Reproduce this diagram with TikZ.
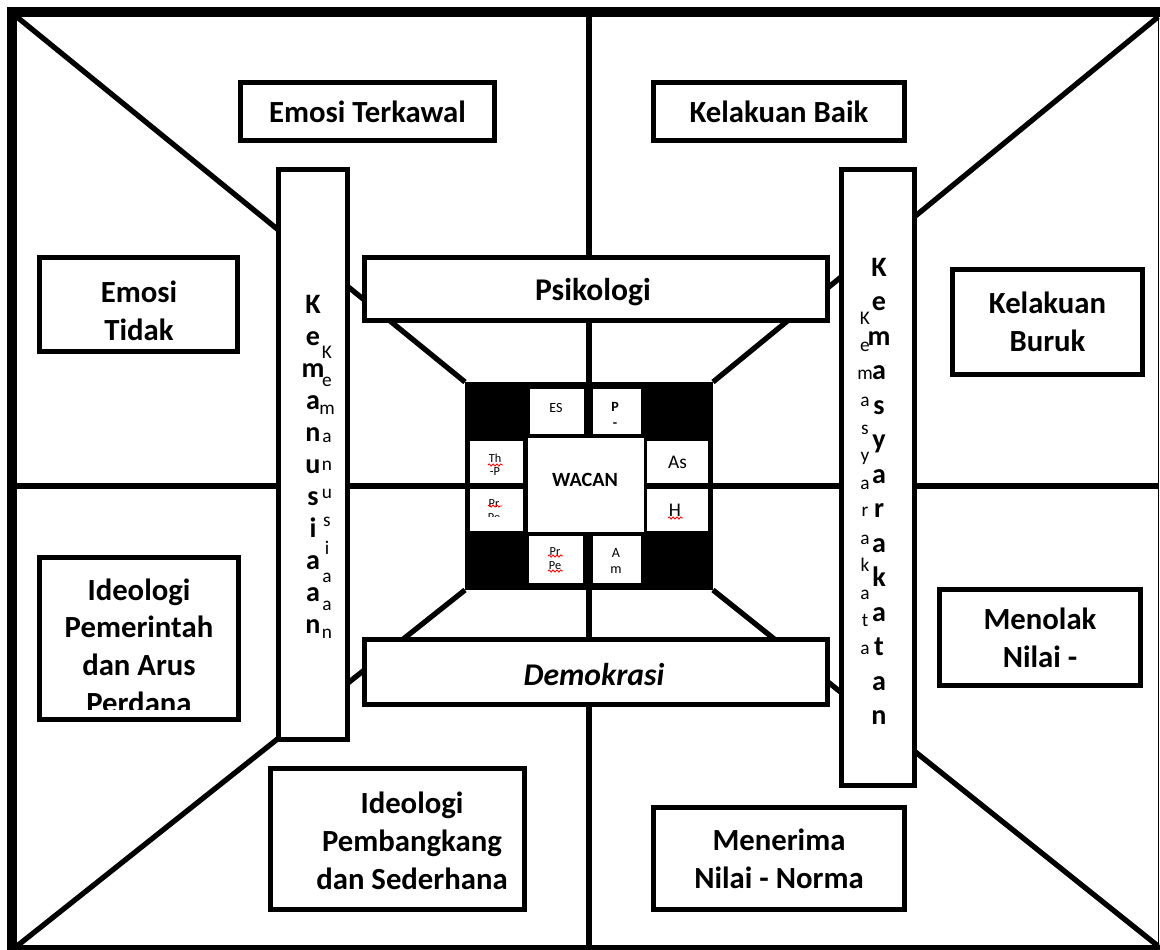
\documentclass[tikz,border=0pt]{standalone}
\usepackage{fontspec}
\setmainfont{Carlito}
\usetikzlibrary{positioning,decorations.pathmorphing}

\begin{document}
\begin{tikzpicture}[x=0.02cm,y=-0.02cm]

\tikzstyle{box}=[draw,fill=white,line width=2.8pt,outer sep=0pt,inner sep=0pt,align=center,font=\bfseries\fontsize{17.5}{21.5}\selectfont]
\tikzstyle{boxtext}=[align=center,inner sep=0pt,font=\bfseries\fontsize{17.5}{21.5}\selectfont]
\tikzstyle{cell}=[fill=white,outer sep=0pt,inner sep=0pt]
\tikzstyle{celltext}=[inner sep=0pt,font=\fontsize{8}{8}\selectfont]
\tikzstyle{letterbig}=[anchor=base,inner sep=0pt,font=\bfseries\fontsize{16}{16}\selectfont]
\tikzstyle{lettersmall}=[anchor=base,inner sep=0pt,font=\fontsize{11}{11}\selectfont]
\tikzstyle{divider}=[line width=3pt]
\tikzstyle{wavy}=[red,line width=0.5pt,decorate,decoration={snake,amplitude=0.6pt,segment length=2.2pt}]

\useasboundingbox (0,0) rectangle (1160,950);

% Rama

\coordinate (tl) at (17,17);
\coordinate (tr) at (1158,17);
\coordinate (bl) at (17,946);
\coordinate (br) at (1158,946);

\draw [line width=5.7pt] (7,12) -- (1160,12);
\draw [line width=5.7pt] (12,7) -- (12,950);
\draw [line width=2.8pt] (7,947.5) -- (1160,947.5);
\draw [line width=1pt] (1158.5,7) -- (1158.5,950);

% Garis pusat

\coordinate (ct) at (589,17);
\coordinate (cb) at (589,946);
\coordinate (cl) at (17,486);
\coordinate (cr) at (1158,486);

\coordinate (snw) at (465,382);
\coordinate (sne) at (713,382);
\coordinate (ssw) at (465,590);
\coordinate (sse) at (713,590);

\draw [divider,line width=3.6pt] (ct) -- (cb);
\draw [divider,line width=3.6pt] (cl) -- (cr);
\draw [divider] (tl) -- (snw);
\draw [divider] (tr) -- (sne);
\draw [divider] (bl) -- (ssw);
\draw [divider] (br) -- (sse);

% Kotak hitam

\fill (snw) rectangle (sse);

\node (es) [cell,minimum width=1.08cm,minimum height=0.90cm] at (557,411.5) {};
\node (estext) [celltext] at (556,408) {ES};
\node (p) [cell,minimum width=0.96cm,minimum height=0.90cm] at (617,411.5) {};
\node (ptext) [celltext,align=center,font=\bfseries\fontsize{8}{9}\selectfont] at (615,415) {P\\-};
\node (wacan) [cell,minimum width=2.32cm,minimum height=1.88cm] at (586,485) {};
\node (wacantext) [inner sep=0pt,font=\bfseries\fontsize{11.5}{11.5}\selectfont] at (585,480) {WACAN};
\node (th) [cell,minimum width=1.06cm,minimum height=0.84cm] at (496.5,462) {};
\node (prl) [cell,minimum width=1.06cm,minimum height=0.84cm] at (496.5,510) {};
\node (as) [cell,minimum width=1.22cm,minimum height=0.84cm,font=\fontsize{11}{11}\selectfont] at (677.5,462) {As};
\node (h) [cell,minimum width=1.22cm,minimum height=0.84cm] at (677.5,510) {};
\node (htext) [inner sep=0pt,font=\fontsize{11}{11}\selectfont] at (675,510) {H};
\node (prb) [cell,minimum width=1.08cm,minimum height=0.94cm] at (556,559.5) {};
\node (am) [cell,minimum width=0.96cm,minimum height=0.94cm] at (617,559.5) {};
\node (amtext) [celltext,align=center,font=\fontsize{8}{9}\selectfont] at (616,561) {A\\m};

\begin{scope}
\clip (470,441) rectangle (523,474);
\node (thtext) [celltext,align=center,font=\fontsize{7}{7.5}\selectfont] at (495,465) {Th\\-P};
\end{scope}
\begin{scope}
\clip (470,489) rectangle (523,516);
\node (prltext) [celltext,align=center,font=\fontsize{7}{8}\selectfont] at (494,511) {Pr\\Pe};
\end{scope}
\begin{scope}
\clip (529,536) rectangle (583,572);
\node (prbtext) [celltext,align=center,font=\fontsize{7}{8}\selectfont] at (555,559) {Pr\\Pe};
\end{scope}

\draw [wavy] (488,465) -- (503,465);
\draw [wavy] (488,506) -- (502,506);
\draw [wavy] (668,518) -- (683,518);
\draw [wavy] (548,556) -- (563,556);
\draw [wavy] (548,571) -- (563,571);

% Kotak luar

\node (emosit) [box,minimum width=5.08cm,minimum height=1.16cm] at (367.5,111.5) {Emosi Terkawal};
\node (baik) [box,minimum width=5.02cm,minimum height=1.16cm] at (779,111.5) {Kelakuan Baik};
\node (emositd) [box,minimum width=3.96cm,minimum height=1.88cm] at (138.5,304.5) {};
\node (emositdtext) [boxtext] at (139,311) {Emosi\\Tidak};
\node (buruk) [box,minimum width=3.80cm,minimum height=2.10cm] at (1047.5,322) {Kelakuan\\Buruk};
\node (ideop) [box,minimum width=3.98cm,minimum height=3.24cm] at (139,638.5) {};
\begin{scope}
\clip (40,558) rectangle (238,709);
\node (ideoptext) [boxtext] at (139,646) {Ideologi\\Pemerintah\\dan Arus\\Perdana};
\end{scope}
\node (menolak) [box,minimum width=4.02cm,minimum height=1.92cm] at (1040,637.5) {Menolak\\Nilai -};
\node (ideob) [box,minimum width=5.08cm,minimum height=2.82cm] at (397.5,839) {};
\node (ideobtext) [boxtext] at (412,841) {Ideologi\\Pembangkang\\dan Sederhana};
\node (menerima) [box,minimum width=5.02cm,minimum height=2.04cm] at (779,858.5) {Menerima\\Nilai - Norma};

% Psikologi dan Demokrasi

\node (psiko) [box,minimum width=9.26cm,minimum height=1.26cm] at (596,289) {};
\node (psikotext) [inner sep=0pt,anchor=base,font=\bfseries\fontsize{18}{18}\selectfont] at (593,300) {Psikologi};
\node (demo) [box,minimum width=9.26cm,minimum height=1.30cm] at (596,672) {};
\node (demotext) [inner sep=0pt,anchor=base,font=\bfseries\itshape\fontsize{18}{18}\selectfont] at (594,685) {Demokrasi};

% Kemanusiaan

\node (manusia) [box,minimum width=1.38cm,minimum height=11.40cm] at (313,454.5) {};
\foreach \c [count=\i from 0] in {K,e,m,a,n,u,s,i,a,a,n}
  \node (manb\i) [letterbig] at (313,313+32*\i) {\c};
\foreach \c [count=\i from 0] in {K,e,m,a,n,u,s,i,a,a,n}
  \node (mans\i) [lettersmall] at (327,358+28*\i) {\c};

% Kemasyarakatan

\node (masy) [box,minimum width=1.46cm,minimum height=12.32cm] at (878,477.5) {};
\foreach \c [count=\i from 0] in {K,e,m,a,s,y,a,r,a,k,a,t,a,n}
  \node (masb\i) [letterbig] at (879,276+34.5*\i) {\c};
\foreach \c [count=\i from 0] in {K,e,m,a,s,y,a,r,a,k,a,t,a}
  \node (mass\i) [lettersmall] at (865,324+27.5*\i) {\c};

\end{tikzpicture}
\end{document}
